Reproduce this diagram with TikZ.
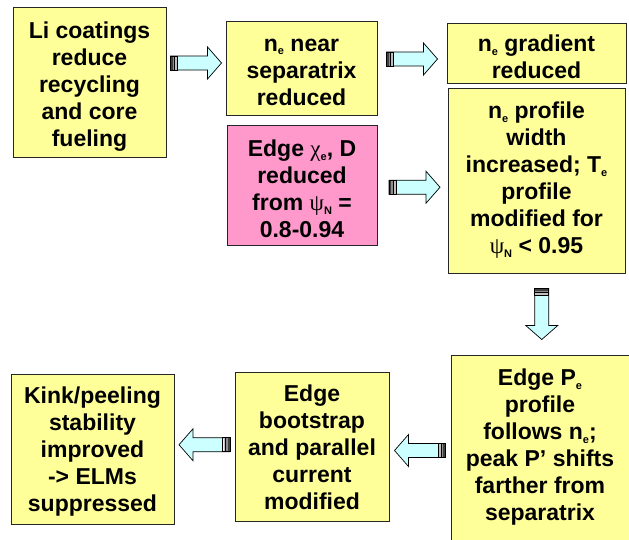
\documentclass[tikz,border=0pt]{standalone}
\usepackage{fontspec}
\setmainfont{Liberation Sans}
\newfontfamily\greekfont{Liberation Serif}
\usetikzlibrary{calc}

\definecolor{boxyellow}{RGB}{255,255,153}
\definecolor{boxpink}{RGB}{255,153,204}
\definecolor{arrowcyan}{RGB}{204,255,255}

% small lowered index letters
\newcommand\idx[1]{\raisebox{-0.3ex}{\fontsize{11}{11}\selectfont #1}}
\newcommand\grk[1]{{\greekfont\mdseries #1}}

\tikzset{
  box/.style={draw=black!85, line width=0.9pt, fill=boxyellow, inner sep=0pt},
  pinkbox/.style={box, fill=boxpink},
  txt/.style={inner sep=0pt, align=center, font=\fontsize{23}{27}\selectfont\bfseries},
  % block arrow centred on its origin, pointing along +x, striped tail
  blockarr/.pic={
    \path[fill=arrowcyan, draw=black, line width=0.7pt]
      (-25.5,-7) -- (11.5,-7) -- (11.5,-16) -- (25.5,0) -- (11.5,16)
      -- (11.5,7) -- (-25.5,7) -- cycle;
    \fill[black!75] (-25.5,-7) rectangle (-23.2,7);
    \fill[black!45] (-23.2,-7) rectangle (-21.6,7);
    \draw[line width=0.7pt] (-21.2,-7) -- (-21.2,7);
    \fill[black!25] (-20.8,-7) rectangle (-19,7);
    \draw[line width=0.7pt] (-18.2,-7) -- (-18.2,7);
    \draw[line width=0.7pt] (-25.5,-7) rectangle (-18.2,7);
  }
}

\begin{document}
\begin{tikzpicture}[x=1pt, y=-1pt]
\useasboundingbox (0,0) rectangle (629,540);
\clip (0,0) rectangle (629,540);

% upper row
\node[box, minimum width=153, minimum height=150] (li) at (89.5,82) {};
\node[txt] (li-t) at ($(li.center)+(0,5)$)
  {Li coatings\\reduce\\recycling\\and core\\fueling};
\node[box, minimum width=151, minimum height=94] (nesep) at (301.5,68) {};
\node[txt] (nesep-t) at ($(nesep.center)+(0,4)$)
  {n\idx{e} near\\separatrix\\reduced};
\node[box, minimum width=179, minimum height=60] (negrad) at (536.5,53) {};
\node[txt] (negrad-t) at ($(negrad.center)+(0,4)$)
  {n\idx{e} gradient\\reduced};
\node[pinkbox, minimum width=150, minimum height=120] (chi) at (302,185) {};
\node[txt] (chi-t) at ($(chi.center)+(0,4)$)
  {Edge \grk{χ}\idx{e}, D\\reduced\\from \grk{ψ}\idx{N} =\\0.8-0.94};
\node[box, minimum width=177, minimum height=185] (neprof) at (536.5,180.5) {};
\node[txt] (neprof-t) at (neprof.center)
  {n\idx{e} profile\\width\\increased; T\idx{e}\\profile\\modified for\\\grk{ψ}\idx{N} < 0.95};

% lower row
\node[box, minimum width=180, minimum height=187] (pe) at (541,448.5) {};
\node[txt] (pe-t) at ($(pe.center)+(-1,-1)$)
  {Edge P\idx{e}\\profile\\follows n\idx{e};\\peak P’ shifts\\farther from\\separatrix};
\node[box, minimum width=154, minimum height=149] (boot) at (312,446.5) {};
\node[txt] (boot-t) at ($(boot.center)+(0,1)$)
  {Edge\\bootstrap\\and parallel\\current\\modified};
\node[box, minimum width=163, minimum height=150] (kink) at (92.5,449) {};
\node[txt] (kink-t) at ($(kink.center)+(0,3)$)
  {Kink/peeling\\stability\\improved\\-> ELMs\\suppressed};

% block arrows between the boxes
\coordinate (a1) at ($(li.east)!0.5!(nesep.west) + (0,-12)$);
\coordinate (a2) at ($(nesep.east)!0.5!(negrad.west) + (0,-1.5)$);
\coordinate (a3) at ($(chi.east)!0.5!(neprof.west) + (2,4.5)$);
\coordinate (a4) at ($(neprof.south)!0.5!(pe.north) + (3,0)$);
\coordinate (a5) at ($(boot.east)!0.5!(pe.west) + (0,3)$);
\coordinate (a6) at ($(kink.east)!0.5!(boot.west) + (0,-3)$);

\pic at (a1) {blockarr};
\pic at (a2) {blockarr};
\pic at (a3) {blockarr};
\pic[rotate=-90] at (a4) {blockarr};
\pic[rotate=180] at (a5) {blockarr};
\pic[rotate=180] at (a6) {blockarr};
\end{tikzpicture}
\end{document}
